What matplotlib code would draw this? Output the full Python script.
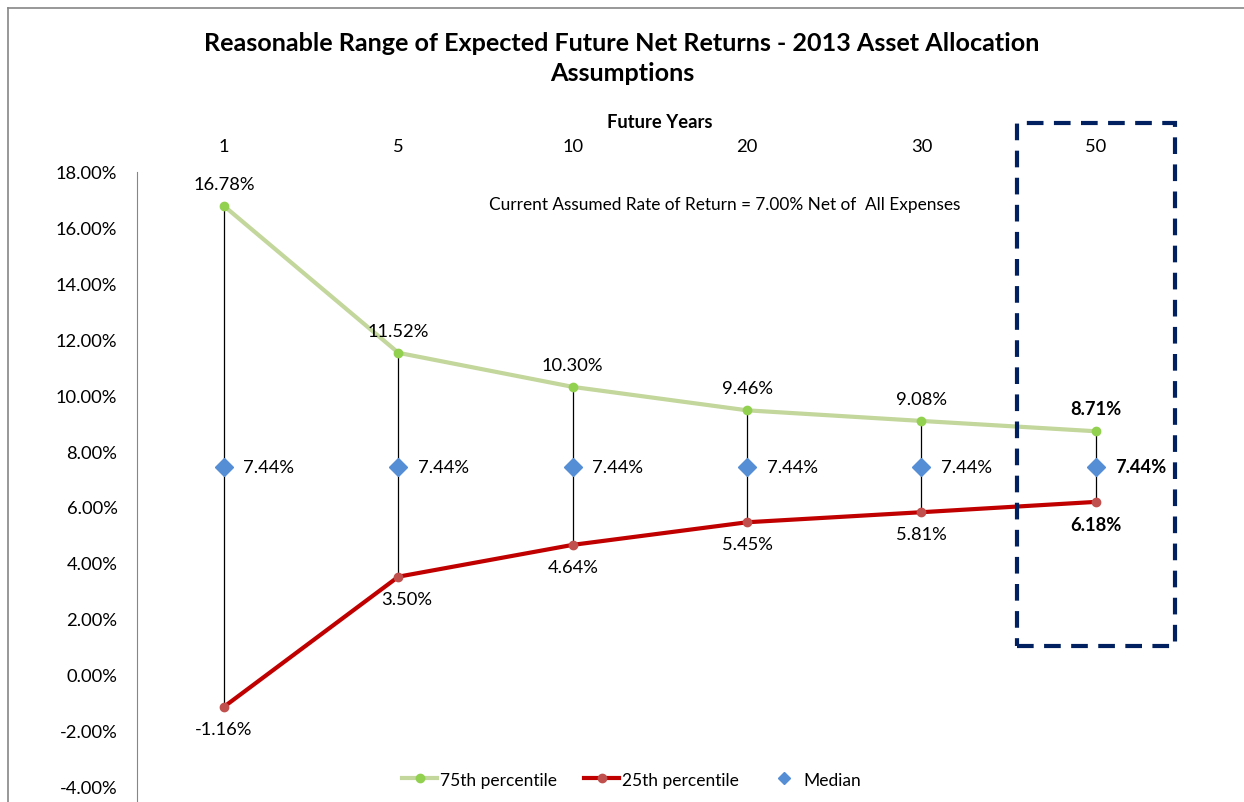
import matplotlib.pyplot as plt
from matplotlib.lines import Line2D
from matplotlib.patches import Rectangle

plt.rcParams['font.family'] = ['Lato', 'DejaVu Sans']

# dados
anos = ['1', '5', '10', '20', '30', '50']
p75 = [16.78, 11.52, 10.30, 9.46, 9.08, 8.71]
p25 = [-1.16, 3.50, 4.64, 5.45, 5.81, 6.18]
mediana = [7.44, 7.44, 7.44, 7.44, 7.44, 7.44]
yticks = [-4, -2, 0, 2, 4, 6, 8, 10, 12, 14, 16, 18]

cor_75 = '#C3D69B'
cor_75_mk = '#92D050'
cor_25 = '#C00000'
cor_25_mk = '#C0504D'
cor_med = '#558ED5'

fig = plt.figure(figsize=(12.44, 8.03), dpi=100)
ax = fig.add_axes([0.110, 0.0199, 0.841, 0.7647])

x = list(range(len(anos)))

# linhas hi-lo
ax.vlines(x, p25, p75, color='black', lw=0.9, zorder=2)

ax.plot(x, p75, color=cor_75, lw=3, marker='o', ms=6, mfc=cor_75_mk, mec=cor_75_mk, zorder=3)
ax.plot(x, p25, color=cor_25, lw=3, marker='o', ms=6, mfc=cor_25_mk, mec=cor_25_mk, zorder=3)
ax.plot(x, mediana, ls='none', marker='D', ms=9, color=cor_med, zorder=4)

fs = 13.2
for i in x:
    w = 'bold' if i == len(anos) - 1 else 'normal'
    ax.annotate(f'{p75[i]:.2f}%', (i, p75[i]), xytext=(0, 10), textcoords='offset points',
                ha='center', va='bottom', fontsize=fs, fontweight=w)
    ax.annotate(f'{p25[i]:.2f}%', (i, p25[i]), xytext=(0 if i != 1 else 6, -10), textcoords='offset points',
                ha='center', va='top', fontsize=fs, fontweight=w)
    ax.annotate(f'{mediana[i]:.2f}%', (i, mediana[i]), xytext=(14, 0), textcoords='offset points',
                ha='left', va='center', fontsize=fs, fontweight=w)

ax.set_xlim(-0.5, len(anos) - 0.5)
ax.set_ylim(-4, 18)
ax.set_yticks(yticks)
ax.set_yticklabels([f'{v:.2f}%' for v in yticks], fontsize=fs)
ax.set_xticks(x)
ax.set_xticklabels(anos, fontsize=fs)
ax.xaxis.tick_top()
ax.xaxis.set_label_position('top')
ax.set_xlabel('Future Years', fontsize=fs, fontweight='bold', labelpad=8)
ax.tick_params(axis='both', length=0)
ax.tick_params(axis='y', pad=14)
ax.tick_params(axis='x', pad=13)
for s in ['top', 'right', 'bottom']:
    ax.spines[s].set_visible(False)
ax.spines['left'].set_color('#868686')
ax.spines['left'].set_bounds(-4.6, 18)

ax.text(2.87, 16.85, 'Current Assumed Rate of Return = 7.00% Net of  All Expenses',
        ha='center', va='center', fontsize=12.4)

# caixa tracejada em volta de 50 anos
caixa = Rectangle((4.547, 1.0), 0.906, 18.76, fill=False, ec='#002060', lw=3,
                  ls=(0, (4, 2.5)), clip_on=False, zorder=5)
ax.add_patch(caixa)

fig.text(0.5, 0.927, 'Reasonable Range of Expected Future Net Returns - 2013 Asset Allocation\nAssumptions',
         ha='center', va='center', fontsize=18.1, fontweight='bold', linespacing=1.4)

handles = [
    Line2D([], [], color=cor_75, lw=3, marker='o', ms=6, mfc=cor_75_mk, mec=cor_75_mk),
    Line2D([], [], color=cor_25, lw=3, marker='o', ms=6, mfc=cor_25_mk, mec=cor_25_mk),
    Line2D([], [], ls='none', marker='D', ms=6, color=cor_med),
]
fig.legend(handles, ['75th percentile', '25th percentile', 'Median'], loc='center',
           bbox_to_anchor=(0.508, 0.028), ncol=3, frameon=False, fontsize=12.5,
           handlelength=2.0, handletextpad=0.15, columnspacing=1.6)

# borda do grafico
fig.add_artist(Line2D([0.0065, 0.0065], [0, 0.989], color='#868686', lw=1.2))
fig.add_artist(Line2D([0.0065, 1.0], [0.989, 0.989], color='#868686', lw=1.2))

fig.savefig('out.png', dpi=100)
